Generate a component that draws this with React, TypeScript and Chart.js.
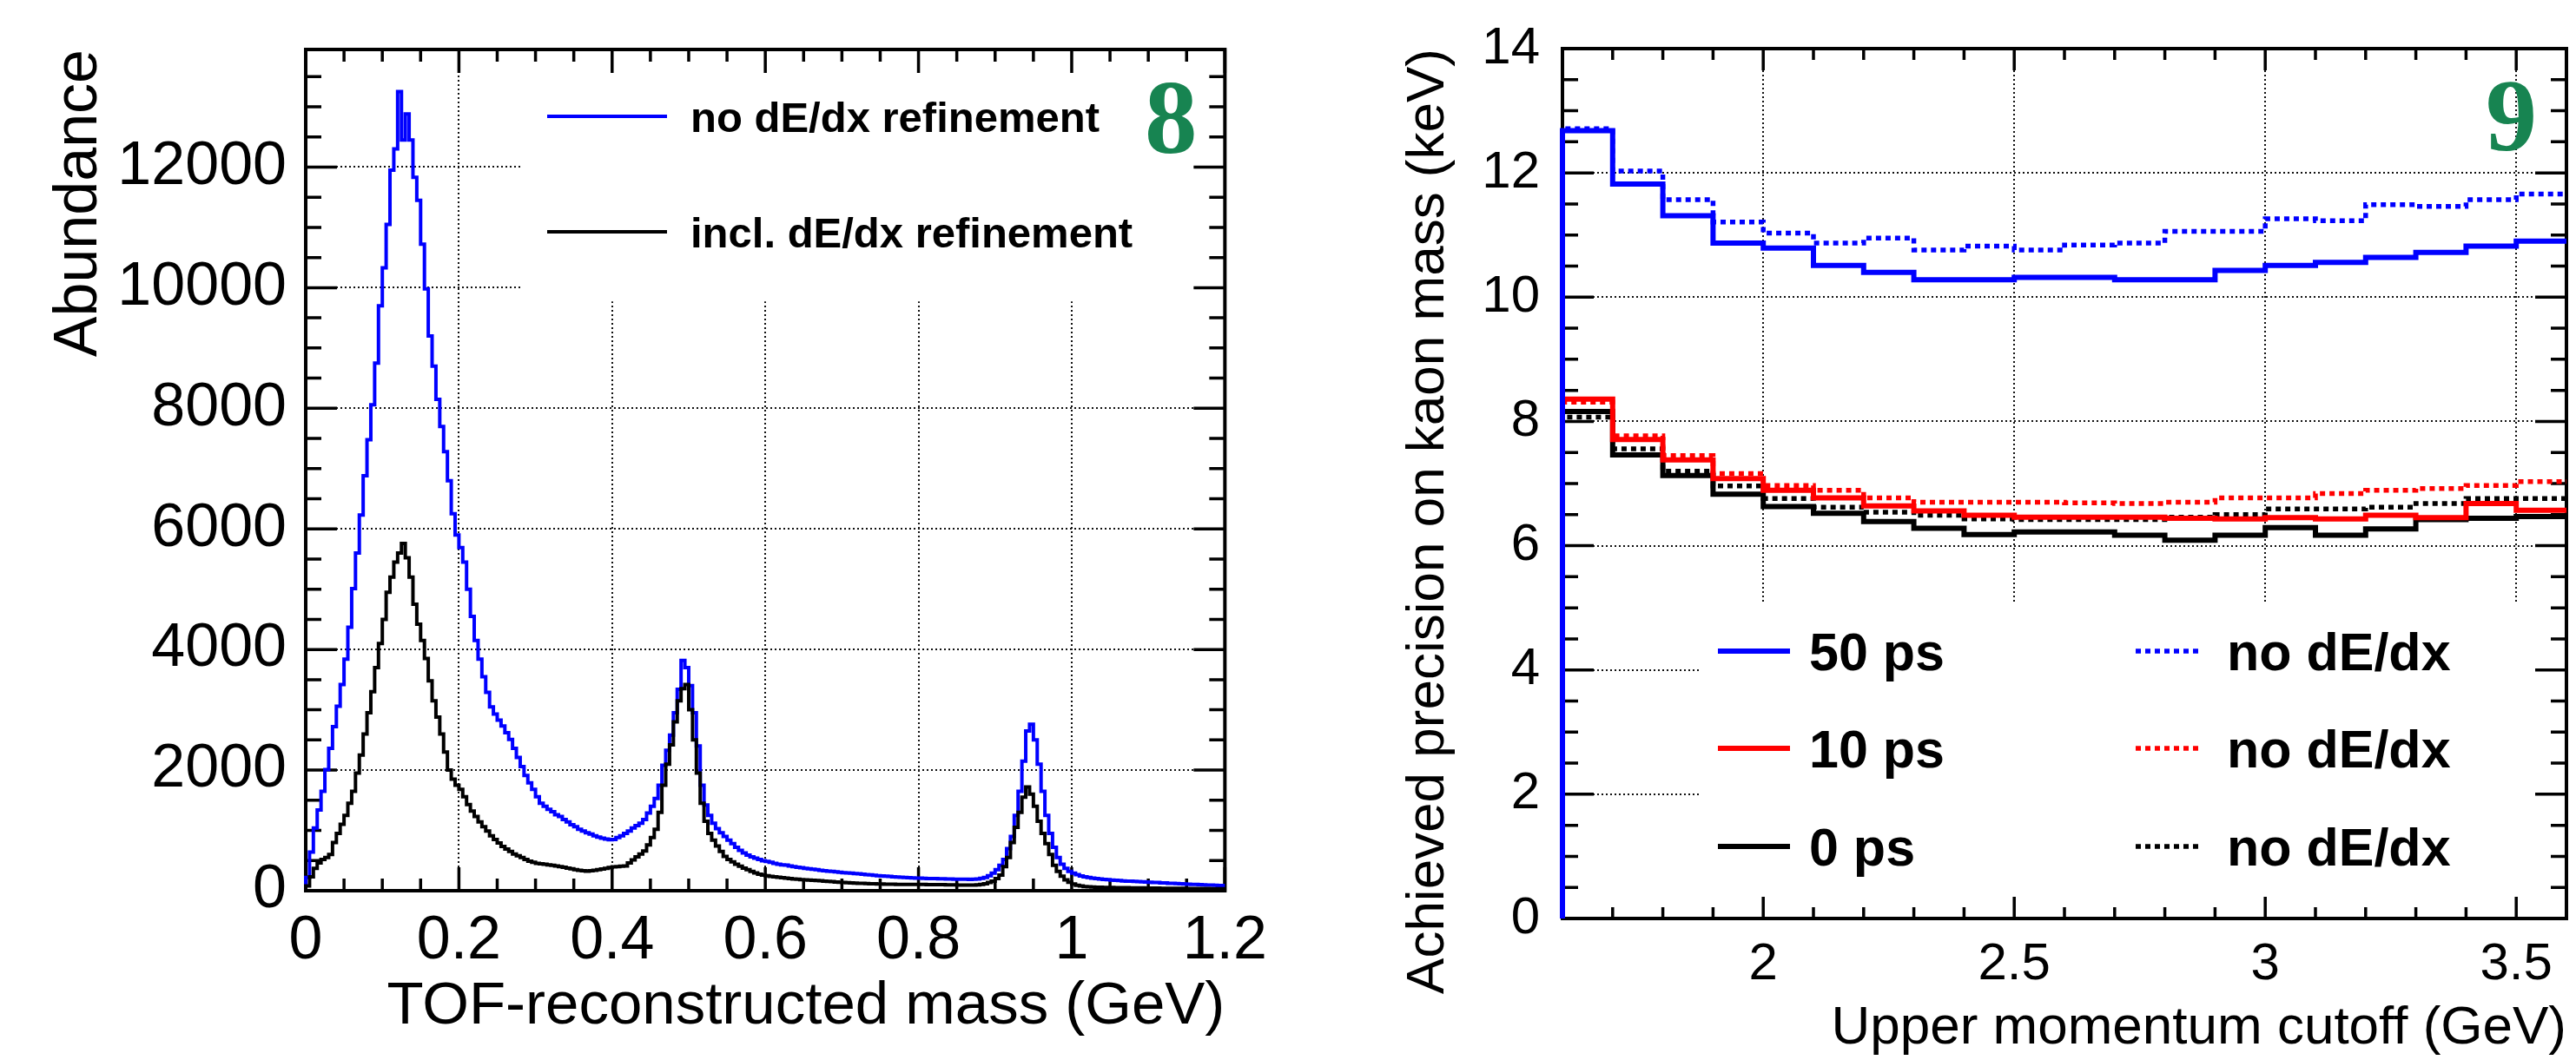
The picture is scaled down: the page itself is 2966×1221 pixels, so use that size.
import React, { useEffect, useRef } from "react";
import { Chart, registerables } from "chart.js";

Chart.register(...registerables);

// ---------------- Panel 8 data: TOF-reconstructed mass histograms ----------------
const MASS_BIN_WIDTH = 0.005;
const MASS_MAX = 1.2;
const ABUNDANCE_MAX = 13950;

const massNoDedx = [
  220, 640, 1040, 1340, 1650, 2010, 2360, 2720, 3060, 3420, 3840, 4370, 5010, 5600, 6230, 6880, 7480, 8060, 8750, 9700,
  10330, 11050, 11950, 12300, 13250, 12450, 12880, 12450, 11830, 11450, 10720, 9980, 9200, 8700, 8150, 7700, 7280, 6800, 6250, 5900,
  5690, 5450, 5000, 4550, 4150, 3840, 3550, 3290, 3050, 2930, 2830, 2730, 2620, 2510, 2360, 2210, 2060, 1910, 1790, 1680,
  1560, 1450, 1400, 1350, 1310, 1260, 1230, 1180, 1140, 1095, 1060, 1020, 990, 960, 940, 910, 890, 870, 855, 845,
  850, 880, 910, 950, 990, 1040, 1080, 1120, 1180, 1290, 1400, 1530, 1750, 2080, 2330, 2580, 2950, 3340, 3820, 3700,
  3400, 2950, 2400, 1750, 1420, 1250, 1120, 1030, 960, 900, 840, 780, 720, 670, 625, 590, 560, 540, 520, 495,
  485, 470, 455, 440, 430, 425, 410, 400, 390, 380, 372, 365, 355, 350, 340, 332, 325, 320, 312, 305,
  300, 296, 290, 285, 280, 272, 268, 262, 255, 250, 245, 240, 236, 232, 228, 224, 220, 215, 212, 210,
  207, 205, 203, 202, 200, 198, 197, 195, 194, 192, 190, 190, 189, 188, 190, 195, 205, 220, 250, 290,
  350, 420, 520, 700, 900, 1250, 1650, 2150, 2650, 2760, 2500, 2100, 1650, 1250, 950, 720, 550, 440, 370, 320,
  290, 265, 245, 230, 218, 207, 200, 194, 188, 182, 177, 172, 168, 163, 160, 157, 155, 152, 148, 145,
  142, 138, 135, 131, 128, 124, 121, 118, 115, 112, 109, 106, 103, 100, 97, 95, 92, 90, 87, 85,
];

const massInclDedx = [
  80, 230, 370, 460, 520, 550, 600, 800, 950, 1100, 1250, 1450, 1650, 1950, 2250, 2600, 2950, 3300, 3700, 4100,
  4500, 4950, 5200, 5450, 5600, 5760, 5520, 5200, 4750, 4420, 4150, 3850, 3480, 3150, 2880, 2600, 2300, 2000, 1850, 1750,
  1680, 1560, 1430, 1320, 1230, 1140, 1060, 990, 910, 850, 790, 735, 690, 650, 610, 580, 550, 520, 490, 470,
  455, 448, 440, 430, 420, 410, 400, 390, 375, 365, 350, 340, 330, 325, 330, 340, 350, 360, 370, 385,
  395, 400, 405, 410, 460, 510, 560, 610, 660, 760, 880, 1020, 1300, 1750, 2100, 2420, 2800, 3150, 3350, 3420,
  3000, 2500, 1950, 1450, 1150, 950, 840, 740, 650, 570, 520, 480, 440, 405, 375, 350, 320, 295, 275, 260,
  248, 238, 230, 222, 215, 208, 200, 195, 190, 185, 180, 176, 172, 168, 164, 160, 155, 150, 145, 140,
  136, 133, 130, 127, 124, 121, 118, 116, 114, 112, 110, 109, 108, 107, 106, 106, 105, 105, 104, 104,
  103, 103, 102, 102, 101, 100, 99, 98, 97, 96, 95, 94, 94, 94, 95, 98, 105, 115, 135, 160,
  200, 260, 400, 550, 800, 1050, 1300, 1550, 1720, 1600, 1400, 1150, 950, 780, 600, 420, 320, 240, 180, 140,
  110, 90, 78, 70, 64, 60, 58, 56, 55, 54, 53, 52, 51, 50, 49, 48, 47, 46, 45, 44,
  43, 42, 42, 41, 40, 40, 39, 39, 38, 38, 37, 37, 36, 36, 35, 35, 34, 34, 33, 33,
];

const massTickValues = [0, 0.2, 0.4, 0.6, 0.8, 1.0, 1.2];
const massTickLabels = ["0", "0.2", "0.4", "0.6", "0.8", "1", "1.2"];
const abundanceTickValues = [0, 2000, 4000, 6000, 8000, 10000, 12000];
const abundanceTickLabels = ["0", "2000", "4000", "6000", "8000", "10000", "12000"];

// ---------------- Panel 9 data: kaon mass precision vs upper momentum cutoff ----------------
const cutoffBinLow = [1.6, 1.7, 1.8, 1.9, 2.0, 2.1, 2.2, 2.3, 2.4, 2.5, 2.6, 2.7, 2.8, 2.9, 3.0, 3.1, 3.2, 3.3, 3.4, 3.5];
const CUTOFF_MAX = 3.6;
const PRECISION_MAX = 14;

const prec50ps = [12.68, 11.82, 11.31, 10.87, 10.79, 10.51, 10.4, 10.28, 10.28, 10.32, 10.32, 10.28, 10.28, 10.43, 10.51, 10.56, 10.64, 10.72, 10.82, 10.9];
const prec50psNoDedx = [12.71, 12.03, 11.57, 11.21, 11.03, 10.87, 10.95, 10.76, 10.82, 10.76, 10.84, 10.87, 11.06, 11.06, 11.26, 11.23, 11.49, 11.46, 11.57, 11.66];
const prec10ps = [8.36, 7.71, 7.38, 7.08, 6.89, 6.77, 6.64, 6.56, 6.49, 6.46, 6.46, 6.46, 6.44, 6.43, 6.45, 6.43, 6.49, 6.45, 6.68, 6.57];
const prec10psNoDedx = [8.31, 7.77, 7.45, 7.16, 6.97, 6.89, 6.77, 6.7, 6.7, 6.7, 6.69, 6.68, 6.7, 6.77, 6.77, 6.84, 6.89, 6.92, 6.97, 7.03];
const prec0ps = [8.16, 7.46, 7.13, 6.83, 6.63, 6.52, 6.39, 6.28, 6.18, 6.22, 6.22, 6.17, 6.09, 6.17, 6.29, 6.17, 6.27, 6.42, 6.44, 6.47];
const prec0psNoDedx = [8.07, 7.56, 7.2, 6.96, 6.76, 6.62, 6.54, 6.49, 6.43, 6.42, 6.42, 6.42, 6.46, 6.5, 6.59, 6.59, 6.62, 6.68, 6.76, 6.76];

const cutoffTickValues = [2, 2.5, 3, 3.5];
const cutoffTickLabels = ["2", "2.5", "3", "3.5"];
const precisionTickValues = [0, 2, 4, 6, 8, 10, 12, 14];
const precisionTickLabels = ["0", "2", "4", "6", "8", "10", "12", "14"];

// ---------------- helpers ----------------
const SANS = "'Liberation Sans', Arial, Helvetica, sans-serif";
const SERIF = "'Liberation Serif', 'Times New Roman', serif";
const GREEN = "#178451";
const DOTS = [6, 5];

// points at the low edge of every bin; "before" stepping keeps each value until the next edge
function histPoints(lowEdges: number[], values: number[], upper: number) {
  const pts: { x: number; y: number }[] = [{ x: lowEdges[0], y: 0 }];
  values.forEach((v, i) => pts.push({ x: lowEdges[i], y: v }));
  pts.push({ x: upper, y: values[values.length - 1] });
  return pts;
}

function stepList(start: number, step: number, count: number, majorEvery: number, offset = 0) {
  const major: number[] = [];
  const minor: number[] = [];
  for (let k = 0; k <= count; k++) {
    const v = +(start + k * step).toFixed(6);
    if ((k - offset) % majorEvery === 0) major.push(v);
    else minor.push(v);
  }
  return { major, minor };
}

const rootStylePlugin = {
  id: "rootStyle",
  beforeDatasetsDraw(chart: any, _args: any, opts: any) {
    const { ctx, chartArea: a, scales } = chart;
    const xs = scales.x;
    const ys = scales.y;
    // dotted grid, hidden under the legend box
    ctx.save();
    ctx.beginPath();
    ctx.rect(a.left, a.top, a.right - a.left, a.bottom - a.top);
    if (opts.gridHole) {
      const h = opts.gridHole;
      const x1 = xs.getPixelForValue(h.xMin);
      const x2 = xs.getPixelForValue(h.xMax);
      const y1 = ys.getPixelForValue(h.yMax);
      const y2 = ys.getPixelForValue(h.yMin);
      ctx.rect(x1, y1, x2 - x1, y2 - y1);
    }
    ctx.clip("evenodd");
    ctx.strokeStyle = "#111";
    ctx.lineWidth = 2;
    ctx.setLineDash([2, 3]);
    ctx.beginPath();
    for (const v of opts.gridX) {
      const p = Math.round(xs.getPixelForValue(v));
      ctx.moveTo(p, a.top);
      ctx.lineTo(p, a.bottom);
    }
    for (const v of opts.gridY) {
      const p = Math.round(ys.getPixelForValue(v));
      ctx.moveTo(a.left, p);
      ctx.lineTo(a.right, p);
    }
    ctx.stroke();
    ctx.restore();

    // ticks on all four sides, pointing inwards
    ctx.save();
    ctx.strokeStyle = "#000";
    ctx.lineWidth = 3.5;
    ctx.setLineDash([]);
    ctx.beginPath();
    const t = opts.ticks;
    const xt = (vals: number[], len: number) => {
      for (const v of vals) {
        const p = xs.getPixelForValue(v);
        ctx.moveTo(p, a.bottom);
        ctx.lineTo(p, a.bottom - len);
        ctx.moveTo(p, a.top);
        ctx.lineTo(p, a.top + len);
      }
    };
    const yt = (vals: number[], len: number) => {
      for (const v of vals) {
        const p = ys.getPixelForValue(v);
        ctx.moveTo(a.left, p);
        ctx.lineTo(a.left + len, p);
        ctx.moveTo(a.right, p);
        ctx.lineTo(a.right - len, p);
      }
    };
    xt(t.xMajor, t.xMajorLen);
    xt(t.xMinor, t.xMinorLen);
    yt(t.yMajor, t.yMajorLen);
    yt(t.yMinor, t.yMinorLen);
    ctx.stroke();
    // frame
    ctx.lineWidth = 4;
    ctx.strokeRect(a.left, a.top, a.right - a.left, a.bottom - a.top);
    ctx.restore();
  },
  afterDatasetsDraw(chart: any, _args: any, opts: any) {
    const { ctx } = chart;
    ctx.save();
    for (const it of opts.legend || []) {
      ctx.beginPath();
      ctx.strokeStyle = it.color;
      ctx.lineWidth = it.lineWidth;
      ctx.setLineDash(it.dash || []);
      ctx.moveTo(it.x1, it.y);
      ctx.lineTo(it.x2, it.y);
      ctx.stroke();
      if (it.text) {
        ctx.setLineDash([]);
        ctx.fillStyle = "#000";
        ctx.font = it.font;
        ctx.textAlign = "left";
        ctx.textBaseline = "alphabetic";
        ctx.fillText(it.text, it.textX, it.y + it.baselineShift);
      }
    }
    const pl = opts.panelLabel;
    if (pl) {
      ctx.fillStyle = GREEN;
      ctx.font = pl.font;
      ctx.textAlign = "left";
      ctx.textBaseline = "alphabetic";
      ctx.fillText(pl.text, pl.x, pl.y);
    }
    ctx.restore();
  },
};

function axisX(opts: any) {
  return {
    type: "linear",
    position: "bottom",
    min: opts.min,
    max: opts.max,
    afterBuildTicks: (s: any) => {
      s.ticks = opts.values.map((v: number) => ({ value: v }));
    },
    afterFit: (s: any) => {
      s.height = opts.height;
    },
    grid: { display: false, drawTicks: false },
    border: { display: false },
    ticks: {
      autoSkip: false,
      maxRotation: 0,
      minRotation: 0,
      padding: opts.tickPad,
      color: "#000",
      font: { family: SANS, size: opts.tickSize, lineHeight: 1 },
      callback: (_v: any, i: number) => opts.labels[i],
    },
    title: {
      display: true,
      text: opts.title,
      align: "end",
      color: "#000",
      font: { family: SANS, size: opts.titleSize, lineHeight: 1 },
      padding: { top: 0, bottom: opts.titlePad },
    },
  };
}

function axisY(opts: any) {
  return {
    type: "linear",
    position: "left",
    min: opts.min,
    max: opts.max,
    afterBuildTicks: (s: any) => {
      s.ticks = opts.values.map((v: number) => ({ value: v }));
    },
    afterFit: (s: any) => {
      s.width = opts.width;
    },
    grid: { display: false, drawTicks: false },
    border: { display: false },
    ticks: {
      autoSkip: false,
      padding: opts.tickPad,
      color: "#000",
      font: { family: SANS, size: opts.tickSize, lineHeight: 1 },
      callback: (_v: any, i: number) => opts.labels[i],
    },
    title: {
      display: true,
      text: opts.title,
      align: "end",
      color: "#000",
      font: { family: SANS, size: opts.titleSize, lineHeight: 1 },
      padding: { top: opts.titlePad, bottom: 0 },
    },
  };
}

function histDataset(data: any, color: string, width: number, dash: number[] = []) {
  return {
    data,
    borderColor: color,
    borderWidth: width,
    borderDash: dash,
    stepped: "before",
    pointRadius: 0,
    pointHoverRadius: 0,
    fill: false,
    tension: 0,
    clip: false,
  };
}

function leftConfig(): any {
  const massEdges = massNoDedx.map((_, i) => +(i * MASS_BIN_WIDTH).toFixed(4));
  const xT = stepList(0, 0.05, 24, 4);
  const yT = stepList(0, 500, 27, 4);
  const legendFont = `bold 49px ${SANS}`;
  return {
    type: "line",
    data: {
      datasets: [
        histDataset(histPoints(massEdges, massInclDedx, MASS_MAX), "#000000", 4),
        histDataset(histPoints(massEdges, massNoDedx, MASS_MAX), "#0000ff", 4),
      ],
    },
    options: {
      animation: false,
      responsive: false,
      maintainAspectRatio: false,
      devicePixelRatio: 1,
      events: [],
      layout: { padding: { left: 0, top: 39, right: 58, bottom: 0 } },
      scales: {
        x: axisX({
          min: 0, max: MASS_MAX, values: massTickValues, labels: massTickLabels, height: 195,
          tickPad: 24, tickSize: 70, title: "TOF-reconstructed mass (GeV)", titleSize: 69, titlePad: 27,
        }),
        y: axisY({
          min: 0, max: ABUNDANCE_MAX, values: abundanceTickValues, labels: abundanceTickLabels, width: 352,
          tickPad: 22, tickSize: 70, title: "Abundance", titleSize: 70, titlePad: 57,
        }),
      },
      plugins: {
        legend: { display: false },
        tooltip: { enabled: false },
        rootStyle: {
          gridX: [0.2, 0.4, 0.6, 0.8, 1.0],
          gridY: [2000, 4000, 6000, 8000, 10000, 12000],
          gridHole: { xMin: 0.282, xMax: MASS_MAX, yMin: 9770, yMax: ABUNDANCE_MAX },
          ticks: {
            xMajor: xT.major, xMinor: xT.minor, xMajorLen: 27, xMinorLen: 14,
            yMajor: yT.major, yMinor: yT.minor, yMajorLen: 36, yMinorLen: 18,
          },
          legend: [
            { x1: 630, x2: 768, y: 134, color: "#0000ff", lineWidth: 4, text: "no dE/dx refinement", textX: 795, baselineShift: 18, font: legendFont },
            { x1: 630, x2: 768, y: 267, color: "#000000", lineWidth: 4, text: "incl. dE/dx refinement", textX: 795, baselineShift: 18, font: legendFont },
          ],
          panelLabel: { text: "8", x: 1318, y: 176, font: `bold 121px ${SERIF}` },
        },
      },
    },
    plugins: [rootStylePlugin],
  };
}

function rightConfig(): any {
  const xT = stepList(1.6, 0.1, 20, 5, 4);
  const yT = stepList(0, 0.5, 28, 4);
  const legendFont = `bold 61px ${SANS}`;
  const rows = [750, 862, 975];
  return {
    type: "line",
    data: {
      datasets: [
        histDataset(histPoints(cutoffBinLow, prec50ps, CUTOFF_MAX), "#0000ff", 6),
        histDataset(histPoints(cutoffBinLow, prec50psNoDedx, CUTOFF_MAX), "#0000ff", 5.5, DOTS),
        histDataset(histPoints(cutoffBinLow, prec10ps, CUTOFF_MAX), "#ff0000", 6),
        histDataset(histPoints(cutoffBinLow, prec10psNoDedx, CUTOFF_MAX), "#ff0000", 5.5, DOTS),
        histDataset(histPoints(cutoffBinLow, prec0ps, CUTOFF_MAX), "#000000", 6),
        histDataset(histPoints(cutoffBinLow, prec0psNoDedx, CUTOFF_MAX), "#000000", 5.5, DOTS),
      ],
    },
    options: {
      animation: false,
      responsive: false,
      maintainAspectRatio: false,
      devicePixelRatio: 1,
      events: [],
      layout: { padding: { left: 0, top: 53, right: 11, bottom: 0 } },
      scales: {
        x: axisX({
          min: 1.6, max: CUTOFF_MAX, values: cutoffTickValues, labels: cutoffTickLabels, height: 163,
          tickPad: 23, tickSize: 60, title: "Upper momentum cutoff (GeV)", titleSize: 62, titlePad: 5,
        }),
        y: axisY({
          min: 0, max: PRECISION_MAX, values: precisionTickValues, labels: precisionTickLabels, width: 316,
          tickPad: 26, tickSize: 60, title: "Achieved precision on kaon mass (keV)", titleSize: 62, titlePad: 131,
        }),
      },
      plugins: {
        legend: { display: false },
        tooltip: { enabled: false },
        rootStyle: {
          gridX: [2, 2.5, 3, 3.5],
          gridY: [2, 4, 6, 8, 10, 12],
          gridHole: { xMin: 1.872, xMax: CUTOFF_MAX, yMin: 0, yMax: 5.1 },
          ticks: {
            xMajor: xT.major, xMinor: xT.minor, xMajorLen: 25, xMinorLen: 13,
            yMajor: yT.major, yMinor: yT.minor, yMajorLen: 36, yMinorLen: 18,
          },
          legend: [
            { x1: 495, x2: 578, y: rows[0], color: "#0000ff", lineWidth: 6, text: "50 ps", textX: 600, baselineShift: 22, font: legendFont },
            { x1: 976, x2: 1053, y: rows[0], color: "#0000ff", lineWidth: 5.5, dash: DOTS, text: "no dE/dx", textX: 1081, baselineShift: 22, font: legendFont },
            { x1: 495, x2: 578, y: rows[1], color: "#ff0000", lineWidth: 6, text: "10 ps", textX: 600, baselineShift: 22, font: legendFont },
            { x1: 976, x2: 1053, y: rows[1], color: "#ff0000", lineWidth: 5.5, dash: DOTS, text: "no dE/dx", textX: 1081, baselineShift: 22, font: legendFont },
            { x1: 495, x2: 578, y: rows[2], color: "#000000", lineWidth: 6, text: "0 ps", textX: 600, baselineShift: 22, font: legendFont },
            { x1: 976, x2: 1053, y: rows[2], color: "#000000", lineWidth: 5.5, dash: DOTS, text: "no dE/dx", textX: 1081, baselineShift: 22, font: legendFont },
          ],
          panelLabel: { text: "9", x: 1379, y: 173, font: `bold 118px ${SERIF}` },
        },
      },
    },
    plugins: [rootStylePlugin],
  };
}

export default function App() {
  const leftRef = useRef<HTMLCanvasElement>(null);
  const rightRef = useRef<HTMLCanvasElement>(null);

  useEffect(() => {
    document.body.style.margin = "0";
    document.body.style.background = "#ffffff";
    const c1 = new Chart(leftRef.current as HTMLCanvasElement, leftConfig());
    const c2 = new Chart(rightRef.current as HTMLCanvasElement, rightConfig());
    return () => {
      c1.destroy();
      c2.destroy();
    };
  }, []);

  return (
    <div style={{ position: "relative", width: 2966, height: 1221, background: "#ffffff", overflow: "hidden" }}>
      <canvas
        ref={leftRef}
        width={1483}
        height={1221}
        style={{ position: "absolute", left: 0, top: 0, width: 1483, height: 1221 }}
      />
      <canvas
        ref={rightRef}
        width={1483}
        height={1221}
        style={{ position: "absolute", left: 1483, top: 0, width: 1483, height: 1221 }}
      />
    </div>
  );
}
